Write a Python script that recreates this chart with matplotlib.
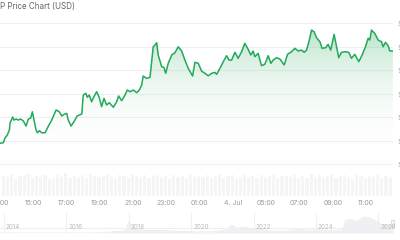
import numpy as np
import matplotlib
matplotlib.use("Agg")
from matplotlib import pyplot as plt
from matplotlib.colors import LinearSegmentedColormap
from matplotlib.patches import Rectangle

plt.rcParams["font.family"] = ["Inter", "DejaVu Sans"]

# 24h price series: hours after 13:00 (3 Jul) and price in USD
hours = [0.08, 0.28, 0.38, 0.52, 0.64, 0.68, 0.84, 0.92, 1.04, 1.18, 1.32, 1.48, 1.64, 1.78, 1.92,
         2.02, 2.12, 2.24, 2.32, 2.44, 2.58, 2.78, 2.98, 3.18, 3.44, 3.63, 3.78, 3.93, 4.08, 4.17,
         4.34, 4.51, 4.71, 4.98, 5.07, 5.22, 5.31, 5.43, 5.57, 5.71, 5.87, 6.01, 6.17, 6.31, 6.47,
         6.63, 6.87, 7.07, 7.19, 7.37, 7.57, 7.71, 7.87, 8.07, 8.27, 8.43, 8.57, 8.66, 8.87, 9.07,
         9.26, 9.37, 9.47, 9.56, 9.77, 9.90, 10.01, 10.16, 10.37, 10.56, 10.76, 10.96, 11.16, 11.36,
         11.62, 11.76, 11.96, 12.16, 12.36, 12.56, 12.76, 12.96, 13.06, 13.26, 13.46, 13.66, 13.80,
         13.96, 14.16, 14.35, 14.56, 14.75, 14.92, 15.11, 15.25, 15.35, 15.55, 15.75, 15.95, 16.15,
         16.31, 16.45, 16.65, 16.85, 17.11, 17.31, 17.55, 17.75, 17.95, 18.15, 18.31, 18.45, 18.59,
         18.75, 18.90, 19.05, 19.25, 19.38, 19.59, 19.74, 19.90, 20.10, 20.25, 20.38, 20.54, 20.78,
         20.98, 21.14, 21.34, 21.58, 21.78, 21.98, 22.14, 22.24, 22.34, 22.54, 22.74, 22.94, 23.04,
         23.18, 23.34, 23.44, 23.63]
prices = [2.2176, 2.2181, 2.2221, 2.2247, 2.2289, 2.2349, 2.2400, 2.2374, 2.2383, 2.2374, 2.2383,
          2.2366, 2.2323, 2.2383, 2.2391, 2.2445, 2.2374, 2.2289, 2.2266, 2.2283, 2.2266, 2.2266,
          2.2323, 2.2374, 2.2460, 2.2445, 2.2409, 2.2423, 2.2431, 2.2374, 2.2323, 2.2360, 2.2409,
          2.2426, 2.2587, 2.2602, 2.2568, 2.2587, 2.2530, 2.2573, 2.2615, 2.2573, 2.2488, 2.2559,
          2.2502, 2.2522, 2.2483, 2.2530, 2.2579, 2.2539, 2.2587, 2.2630, 2.2615, 2.2630, 2.2607,
          2.2630, 2.2672, 2.2749, 2.2729, 2.2738, 2.2998, 2.3013, 2.3032, 2.2928, 2.2828, 2.2823,
          2.2772, 2.2857, 2.2928, 2.2947, 2.2998, 2.2964, 2.2885, 2.2814, 2.2749, 2.2866, 2.2857,
          2.2791, 2.2772, 2.2751, 2.2772, 2.2780, 2.2763, 2.2814, 2.2871, 2.2922, 2.2885, 2.2885,
          2.2951, 2.2900, 2.2956, 2.3027, 2.2985, 2.2928, 2.2962, 2.2913, 2.2942, 2.2837, 2.2849,
          2.2922, 2.2857, 2.2885, 2.2905, 2.2894, 2.2843, 2.2934, 2.2956, 2.2985, 2.2962, 2.2970,
          2.2951, 2.2970, 2.3041, 2.3140, 2.3126, 2.3075, 2.3041, 2.2985, 2.2990, 2.3019, 2.2970,
          2.3104, 2.2998, 2.2905, 2.2951, 2.2956, 2.2951, 2.2900, 2.2934, 2.2871, 2.2928, 2.2998,
          2.3070, 2.3055, 2.3140, 2.3112, 2.3055, 2.3041, 2.2998, 2.3036, 2.3007, 2.2962, 2.2962]

price_ticks = [2.20, 2.22, 2.24, 2.26, 2.28, 2.30, 2.32]
price_labels = ["$2.20", "$2.22", "$2.24", "$2.26", "$2.28", "$2.30", "$2.32"]

time_ticks = [0, 2, 4, 6, 8, 10, 12, 14, 16, 18, 20, 22]
time_labels = ["13:00", "15:00", "17:00", "19:00", "21:00", "23:00", "01:00", "4. Jul",
               "05:00", "07:00", "09:00", "11:00"]

# relative volume, one bar per 15 minutes
volume = [0.82, 0.75, 0.88, 0.70, 0.79, 0.85, 0.90, 0.72, 0.80, 0.77, 0.86, 0.69,
          0.74, 0.83, 0.78, 0.91, 0.73, 0.80, 0.76, 0.84, 0.71, 0.87, 0.79, 0.75,
          0.82, 0.90, 0.77, 0.70, 0.85, 0.80, 0.74, 0.88, 0.81, 0.76, 0.83, 0.72,
          0.79, 0.86, 0.75, 0.80, 0.70, 0.84, 0.78, 0.82, 0.73, 0.89, 0.77, 0.81,
          0.76, 0.85, 0.72, 0.80, 0.87, 0.74, 0.79, 0.83, 0.70, 0.78, 0.86, 0.75,
          0.81, 0.73, 0.84, 0.77, 0.80, 0.88, 0.71, 0.79, 0.82, 0.76, 0.85, 0.74,
          0.80, 0.72, 0.87, 0.78, 0.83, 0.75, 0.81, 0.90, 0.73, 0.79, 0.84, 0.77,
          0.70, 0.86, 0.80, 0.74, 0.82, 0.78, 0.85, 0.72, 0.80, 0.76, 0.83, 0.79]

# full history for the navigator (year, price)
hist_years = [2013.9, 2014.5, 2015.5, 2016.5, 2017.3, 2017.5, 2017.9, 2018.0, 2018.1, 2018.3,
              2018.6, 2018.9, 2019.4, 2019.9, 2020.3, 2020.8, 2020.95, 2021.1, 2021.3, 2021.45,
              2021.7, 2021.9, 2022.2, 2022.5, 2023.0, 2023.5, 2023.6, 2024.0, 2024.5, 2024.85,
              2024.95, 2025.1, 2025.3, 2025.55, 2025.7, 2025.9, 2026.0, 2026.1, 2026.3, 2026.47]
hist_prices = [0.02, 0.01, 0.01, 0.01, 0.05, 0.25, 0.40, 2.20, 1.20, 0.70,
               0.45, 0.50, 0.40, 0.25, 0.20, 0.25, 0.50, 0.45, 1.50, 0.90,
               1.10, 0.90, 0.80, 0.35, 0.35, 0.70, 0.50, 0.60, 0.50, 0.60,
               2.30, 2.60, 2.20, 3.10, 2.90, 2.40, 2.00, 1.60, 1.50, 1.60]
hist_year_ticks = [2014, 2016, 2018, 2020, 2022, 2024, 2026]

GREEN = "#22a95a"
GRID = "#efefef"
TEXT = "#9a9a9a"

fig = plt.figure(figsize=(4, 2.4), dpi=100)
W, H = 400, 240


def box(x0, y0, x1, y1):
    return [x0 / W, 1 - y1 / H, (x1 - x0) / W, (y1 - y0) / H]


# main price chart
ax = fig.add_axes(box(0, 12, 393, 168))
ax.set_xlim(0.08, 23.63)
ax.set_ylim(2.1966, 2.3294)
ax.plot(hours, prices, color=GREEN, lw=1.1, zorder=3, solid_joinstyle="round")
poly = ax.fill_between(hours, prices, 2.1966, color="none", lw=0)
cmap = LinearSegmentedColormap.from_list("g", [(1, 1, 1, 0), (0.13, 0.66, 0.35, 0.42)])
grad = ax.imshow(np.linspace(0, 1, 200).reshape(-1, 1) ** 1.3, cmap=cmap, aspect="auto",
                 extent=[0.08, 23.63, 2.1966, 2.3294], origin="lower", zorder=2)
grad.set_clip_path(poly.get_paths()[0], transform=ax.transData)
ax.set_yticks(price_ticks)
ax.set_yticklabels(price_labels)
ax.yaxis.tick_right()
ax.tick_params(axis="y", length=0, pad=3, labelsize=5.5, colors=TEXT)
ax.set_xticks([])
ax.grid(axis="y", color=GRID, lw=0.8, zorder=0)
for s in ax.spines.values():
    s.set_visible(False)

# volume strip
axv = fig.add_axes(box(0, 171, 393, 196))
axv.bar([0.08 + 0.25 * i + 0.125 for i in range(len(volume))], volume, width=0.19,
        color="#f5f5f5", lw=0)
axv.set_xlim(0.08, 23.63)
axv.set_ylim(0, 1)
axv.set_yticks([])
axv.set_xticks(time_ticks)
axv.set_xticklabels(time_labels)
axv.tick_params(axis="x", length=0, pad=3, labelsize=5, colors=TEXT)
for s in axv.spines.values():
    s.set_visible(False)

# navigator
axn = fig.add_axes(box(0, 213, 393, 233))
axn.fill_between(hist_years, hist_prices, 0, color="#eef0f3", lw=0)
axn.plot(hist_years, hist_prices, color="#e6e9ed", lw=0.5)
axn.set_xlim(2013.87, 2026.47)
axn.set_ylim(0, 3.8)
axn.set_yticks([])
axn.set_xticks([])
for yr in hist_year_ticks:
    axn.axvline(yr, color=GRID, lw=0.8, zorder=0)
    axn.text(yr + 0.06, 0.15, str(yr), transform=axn.get_xaxis_transform(),
             fontsize=4.5, color="#bbbbbb", va="bottom")
for s in axn.spines.values():
    s.set_visible(False)
axn.axhline(1, color=GRID, lw=0.8, clip_on=False)
axn.add_patch(Rectangle((2026.39, 0.3), 0.1, 0.35, transform=axn.get_xaxis_transform(),
                        facecolor="#f6f6f6", edgecolor="#d0d0d0", lw=0.5, clip_on=False))

# title (the left part runs off the picture)
fig.text(0.0, 1 - 7 / H, "XR", ha="right", va="center", fontsize=5.8, color="#666666")
fig.text(0.0, 1 - 7 / H, "P Price Chart (USD)", ha="left", va="center", fontsize=5.8,
         color="#666666")

fig.savefig("out.png", dpi=100)
